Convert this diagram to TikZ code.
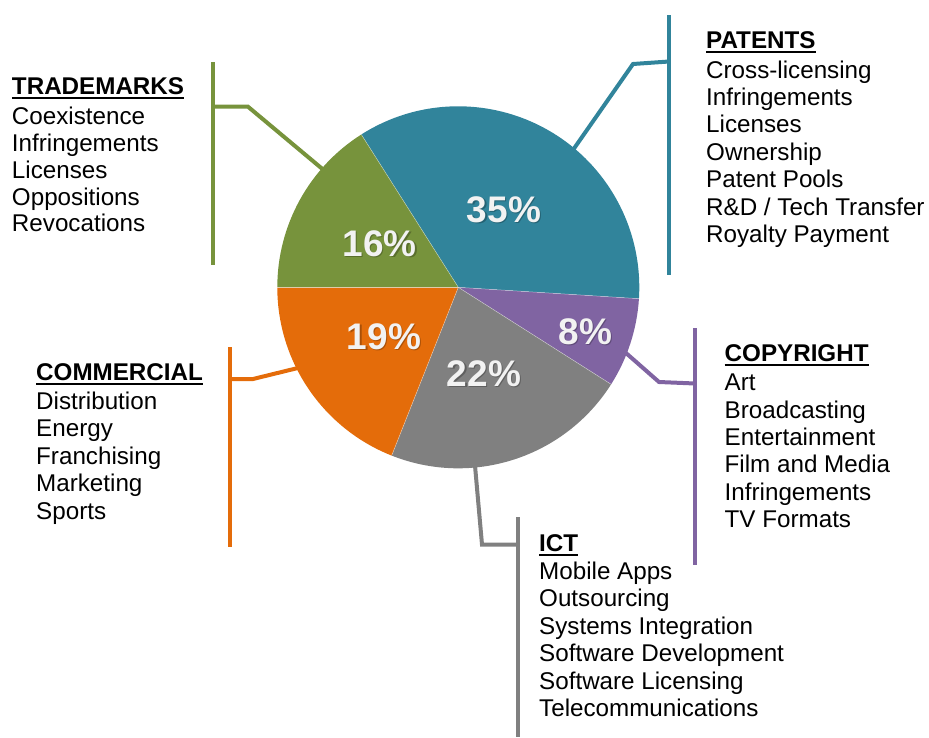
\documentclass[tikz,border=0pt]{standalone}
\usepackage{fontspec}
\setmainfont{Liberation Sans}
\definecolor{cpat}{HTML}{31849B}
\definecolor{ccop}{HTML}{8064A2}
\definecolor{cict}{HTML}{808080}
\definecolor{ccom}{HTML}{E46C0A}
\definecolor{ctm}{HTML}{77933C}
\definecolor{ctxt}{HTML}{F2F2F2}
\tikzset{
  item/.style={anchor=base west, inner sep=0pt, font=\fontsize{24.2}{28}\selectfont},
  hdr/.style={item, font=\bfseries\fontsize{24.2}{28}\selectfont},
  leader/.style={line width=4pt, line join=miter},
  pct/.style={inner sep=0pt, text=ctxt, font=\bfseries\fontsize{37}{40}\selectfont},
  pctshadow/.style={inner sep=0pt, text=black, opacity=0.25, font=\bfseries\fontsize{37}{40}\selectfont}
}
\begin{document}
\begin{tikzpicture}[x=1pt,y=-1pt]
\useasboundingbox (0,0) rectangle (929,737);

% ---- connectors (drawn under the pie) ----
% Patents
\coordinate (pA) at (566,160); \coordinate (pB) at (633,64); \coordinate (pC) at (669,61.5);
\coordinate (pT) at (669,15); \coordinate (pD) at (669,275);
\draw[leader, cpat] (pA) -- (pB) -- (pC);
\draw[leader, cpat] (pT) -- (pD);
% Trademarks
\coordinate (tA) at (332,177); \coordinate (tB) at (248,106.7); \coordinate (tC) at (213,106.7);
\coordinate (tT) at (213,62); \coordinate (tD) at (213,265);
\draw[leader, ctm] (tA) -- (tB) -- (tC);
\draw[leader, ctm] (tT) -- (tD);
% Commercial
\coordinate (cA) at (306,366); \coordinate (cB) at (253,379); \coordinate (cC) at (230,379);
\coordinate (cT) at (230,347); \coordinate (cD) at (230,547);
\draw[leader, ccom] (cA) -- (cB) -- (cC);
\draw[leader, ccom] (cT) -- (cD);
% Copyright
\coordinate (yA) at (618,346); \coordinate (yB) at (659,382); \coordinate (yC) at (695,383.5);
\coordinate (yT) at (695,328); \coordinate (yD) at (695,565);
\draw[leader, ccop] (yA) -- (yB) -- (yC);
\draw[leader, ccop] (yT) -- (yD);
% ICT
\coordinate (iA) at (474.5,460); \coordinate (iB) at (482,544.5); \coordinate (iC) at (518,544.5);
\coordinate (iT) at (518,517); \coordinate (iD) at (518,737);
\draw[leader, cict] (iA) -- (iB) -- (iC);
\draw[leader, cict] (iT) -- (iD);

% ---- pie ----
\begin{scope}[shift={(458.3,287.3)}, x=1pt, y=1pt]
  \coordinate (ctr) at (0,0);
  \fill[cpat] (ctr) -- (122.4:181) arc (122.4:-3.6:181) -- cycle;
  \fill[ccop] (ctr) -- (-3.6:181) arc (-3.6:-32.4:181) -- cycle;
  \fill[cict] (ctr) -- (-32.4:181) arc (-32.4:-111.6:181) -- cycle;
  \fill[ccom] (ctr) -- (-111.6:181) arc (-111.6:-180:181) -- cycle;
  \fill[ctm] (ctr) -- (-180:181) arc (-180:-237.6:181) -- cycle;
  \foreach \a in {122.4,-3.6,-32.4,-111.6,-180}
    \draw[white, line width=0.5pt, opacity=0.5] (ctr) -- (\a:181);
\end{scope}

% ---- percentages ----
\foreach \n/\x/\y/\t in {l35/504/209.7/35\%, l16/379.7/243.3/16\%, l19/384/337/19\%, l22/484/373.7/22\%, l8/585.3/331.7/8\%}{
  \node[pctshadow] (\n s) at (\x+1.2,\y+1.2) {\t};
  \node[pct] (\n) at (\x,\y) {\t};
}

% ---- text blocks ----
% Patents
\node[hdr] (hpat) at (706,48.3) {PATENTS};
\draw[line width=2pt] ([yshift=-3.5pt]hpat.base west) -- ([yshift=-3.5pt]hpat.base east);
\foreach \t [count=\i from 0] in {Cross-licensing,Infringements,Licenses,Ownership,Patent Pools,R\&D / Tech Transfer,Royalty Payment}
  \node[item] (pat\i) at (706,78+27.4*\i) {\t};
% Trademarks
\node[hdr] (htm) at (11.8,94.3) {TRADEMARKS};
\draw[line width=2pt] ([yshift=-3.5pt]htm.base west) -- ([yshift=-3.5pt]htm.base east);
\foreach \t [count=\i from 0] in {Coexistence,Infringements,Licenses,Oppositions,Revocations}
  \node[item] (tm\i) at (11.8,124.3+26.9*\i) {\t};
% Commercial
\node[hdr] (hcom) at (36,380) {COMMERCIAL};
\draw[line width=2pt] ([yshift=-3.5pt]hcom.base west) -- ([yshift=-3.5pt]hcom.base east);
\foreach \t [count=\i from 0] in {Distribution,Energy,Franchising,Marketing,Sports}
  \node[item] (com\i) at (36,409+27.5*\i) {\t};
% Copyright
\node[hdr] (hcop) at (724.5,361.7) {COPYRIGHT};
\draw[line width=2pt] ([yshift=-3.5pt]hcop.base west) -- ([yshift=-3.5pt]hcop.base east);
\foreach \t [count=\i from 0] in {Art,Broadcasting,Entertainment,Film and Media,Infringements,TV Formats}
  \node[item] (cop\i) at (724.5,390.7+27.4*\i) {\t};
% ICT
\node[hdr] (hict) at (539,551.7) {ICT};
\draw[line width=2pt] ([yshift=-3.5pt]hict.base west) -- ([yshift=-3.5pt]hict.base east);
\foreach \t [count=\i from 0] in {Mobile Apps,Outsourcing,Systems Integration,Software Development,Software Licensing,Telecommunications}
  \node[item] (ict\i) at (539,579+27.5*\i) {\t};
\end{tikzpicture}
\end{document}
